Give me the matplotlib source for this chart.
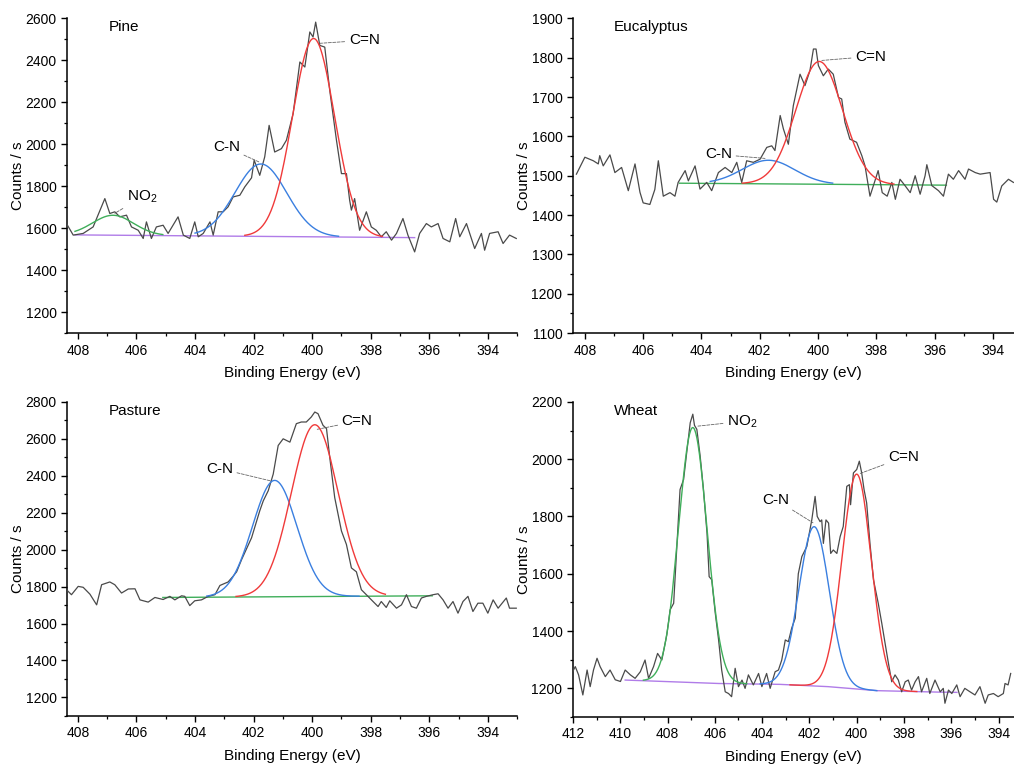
import numpy as np
import matplotlib
matplotlib.use("Agg")
import matplotlib.pyplot as plt
from matplotlib.ticker import MultipleLocator

plt.rcParams['font.family'] = ['Liberation Sans', 'DejaVu Sans']
plt.rcParams['mathtext.fontset'] = 'custom'
plt.rcParams['mathtext.rm'] = 'Liberation Sans'

# ---- raw spectra (binding energy eV, counts/s) ----
pine_e = [408.39, 408.16, 407.82, 407.48, 407.08, 406.91, 406.74, 406.57, 406.34, 406.17,
          405.94, 405.77, 405.66, 405.49, 405.32, 405.09, 404.92, 404.58, 404.40, 404.18,
          404.01, 403.89, 403.72, 403.49, 403.38, 403.21, 403.04, 402.87, 402.70, 402.47,
          402.30, 402.07, 401.98, 401.79, 401.62, 401.47, 401.28, 401.05, 400.88, 400.65,
          400.42, 400.25, 400.08, 399.97, 399.88, 399.74, 399.57, 399.40, 399.17, 399.00,
          398.83, 398.72, 398.66, 398.55, 398.38, 398.15, 397.98, 397.81, 397.64, 397.47,
          397.29, 397.12, 396.90, 396.73, 396.50, 396.33, 396.10, 395.93, 395.70, 395.53,
          395.30, 395.10, 394.96, 394.73, 394.45, 394.22, 394.11, 393.94, 393.65, 393.48,
          393.26, 393.03]
pine_c = [1622, 1567, 1575, 1606, 1741, 1670, 1678, 1654, 1662, 1606,
          1590, 1551, 1630, 1551, 1606, 1614, 1575, 1654, 1567, 1551,
          1630, 1559, 1575, 1630, 1567, 1678, 1678, 1702, 1749, 1757,
          1797, 1840, 1924, 1852, 1940, 2090, 1963, 1979, 2019, 2146,
          2392, 2368, 2535, 2511, 2582, 2471, 2463, 2257, 2019, 1860,
          1860, 1733, 1686, 1741, 1590, 1678, 1606, 1590, 1559, 1583,
          1543, 1575, 1646, 1567, 1487, 1575, 1622, 1606, 1622, 1551,
          1535, 1646, 1559, 1622, 1503, 1575, 1495, 1575, 1583, 1527,
          1567, 1551]

euc_e = [408.29, 408.00, 407.71, 407.54, 407.49, 407.37, 407.14, 406.97, 406.74, 406.51,
         406.28, 406.11, 406.00, 405.77, 405.60, 405.48, 405.31, 405.08, 404.91, 404.80,
         404.56, 404.45, 404.22, 404.05, 403.82, 403.65, 403.42, 403.19, 402.96, 402.79,
         402.62, 402.45, 402.22, 401.99, 401.76, 401.59, 401.48, 401.30, 401.19, 401.02,
         400.85, 400.62, 400.45, 400.28, 400.16, 400.07, 399.99, 399.82, 399.65, 399.48,
         399.30, 399.19, 399.08, 398.91, 398.68, 398.50, 398.39, 398.22, 398.05, 397.94,
         397.80, 397.63, 397.47, 397.35, 397.19, 397.02, 396.84, 396.67, 396.50, 396.33,
         396.27, 396.10, 395.87, 395.70, 395.53, 395.36, 395.18, 394.96, 394.84, 394.61,
         394.44, 394.10, 393.98, 393.87, 393.70, 393.47, 393.30]
euc_c = [1504, 1547, 1538, 1530, 1551, 1525, 1553, 1508, 1521, 1462,
         1530, 1458, 1431, 1427, 1465, 1538, 1448, 1457, 1448, 1483,
         1513, 1487, 1525, 1466, 1483, 1462, 1508, 1521, 1508, 1534,
         1483, 1538, 1534, 1542, 1572, 1576, 1564, 1653, 1619, 1580,
         1678, 1758, 1729, 1767, 1822, 1822, 1780, 1754, 1771, 1758,
         1699, 1695, 1636, 1593, 1585, 1551, 1525, 1448, 1487, 1513,
         1457, 1448, 1483, 1440, 1491, 1475, 1457, 1500, 1453, 1500,
         1528, 1475, 1462, 1448, 1504, 1491, 1513, 1491, 1517, 1508,
         1504, 1508, 1440, 1433, 1474, 1491, 1483]

pas_e = [408.39, 408.22, 407.99, 407.82, 407.59, 407.36, 407.19, 406.91, 406.74, 406.51,
         406.28, 406.05, 405.88, 405.60, 405.37, 405.09, 404.86, 404.69, 404.46, 404.35,
         404.18, 404.01, 403.78, 403.55, 403.32, 403.15, 402.87, 402.70, 402.58, 402.41,
         402.07, 401.79, 401.67, 401.50, 401.33, 401.16, 400.99, 400.76, 400.54, 400.37,
         400.20, 400.03, 399.91, 399.80, 399.63, 399.51, 399.40, 399.23, 399.00, 398.83,
         398.66, 398.49, 398.32, 398.15, 397.92, 397.75, 397.64, 397.47, 397.35, 397.12,
         396.95, 396.78, 396.61, 396.44, 396.27, 396.10, 395.87, 395.70, 395.53, 395.36,
         395.19, 395.02, 394.85, 394.68, 394.51, 394.34, 394.17, 394.00, 393.82, 393.65,
         393.37, 393.26, 393.03]
pas_c = [1783, 1756, 1801, 1796, 1759, 1701, 1810, 1825, 1810, 1765,
         1787, 1788, 1728, 1716, 1741, 1730, 1747, 1728, 1750, 1747,
         1697, 1723, 1728, 1747, 1756, 1806, 1825, 1856, 1880, 1946,
         2064, 2210, 2264, 2319, 2409, 2564, 2600, 2582, 2682, 2691,
         2691, 2718, 2745, 2736, 2673, 2655, 2500, 2282, 2101, 2028,
         1901, 1880, 1783, 1756, 1719, 1692, 1719, 1687, 1723, 1683,
         1701, 1756, 1692, 1683, 1738, 1747, 1756, 1761, 1728, 1683,
         1719, 1656, 1719, 1747, 1665, 1710, 1710, 1656, 1728, 1683,
         1738, 1683, 1683]

wheat_e = [412.00, 411.90, 411.76, 411.58, 411.40, 411.27, 411.13, 410.98, 410.85, 410.63,
           410.43, 410.21, 409.99, 409.79, 409.57, 409.37, 409.15, 408.95, 408.80, 408.59,
           408.42, 408.24, 408.03, 407.89, 407.74, 407.47, 407.32, 407.19, 407.04, 406.93,
           406.86, 406.76, 406.62, 406.48, 406.33, 406.24, 406.13, 405.98, 405.84, 405.71,
           405.56, 405.42, 405.29, 405.14, 405.00, 404.85, 404.72, 404.58, 404.37, 404.15,
           404.01, 403.81, 403.66, 403.45, 403.31, 403.17, 403.02, 402.89, 402.75, 402.60,
           402.47, 402.32, 402.11, 401.90, 401.76, 401.67, 401.55, 401.48, 401.41, 401.30,
           401.19, 401.10, 400.99, 400.84, 400.70, 400.57, 400.42, 400.31, 400.26, 400.14,
           400.00, 399.89, 399.79, 399.69, 399.58, 399.44, 399.29, 399.09, 398.94, 398.80,
           398.66, 398.52, 398.38, 398.24, 398.10, 397.95, 397.82, 397.68, 397.53, 397.39,
           397.26, 397.04, 396.91, 396.69, 396.47, 396.34, 396.27, 396.12, 395.98, 395.77,
           395.63, 395.43, 395.21, 395.00, 394.79, 394.57, 394.44, 394.22, 394.02, 393.80,
           393.73, 393.60, 393.49]
wheat_c = [1260, 1276, 1247, 1177, 1264, 1206, 1264, 1305, 1276, 1241,
           1264, 1230, 1224, 1264, 1247, 1235, 1258, 1299, 1235, 1276,
           1322, 1299, 1387, 1474, 1497, 1894, 1929, 2022, 2127, 2157,
           2118, 2104, 2011, 1894, 1742, 1590, 1579, 1462, 1369, 1264,
           1188, 1182, 1171, 1270, 1206, 1229, 1200, 1247, 1212, 1252,
           1206, 1252, 1200, 1258, 1264, 1299, 1369, 1363, 1410, 1445,
           1600, 1660, 1695, 1788, 1870, 1800, 1782, 1788, 1706, 1788,
           1777, 1671, 1683, 1671, 1730, 1765, 1905, 1911, 1841, 1952,
           1964, 1993, 1952, 1894, 1847, 1706, 1578, 1497, 1427, 1357,
           1288, 1223, 1247, 1229, 1188, 1223, 1229, 1194, 1223, 1241,
           1188, 1235, 1182, 1229, 1188, 1200, 1148, 1194, 1182, 1212,
           1171, 1200, 1188, 1177, 1206, 1148, 1177, 1182, 1171, 1182,
           1217, 1212, 1252]

# ---- fitted components: label, centre, height above baseline, sigma, drawn range ----
pine_fit_label = ["NO$_2$", "C-N", "C=N"]
pine_fit_center = [406.8, 401.75, 399.95]
pine_fit_height = [95, 345, 945]
pine_fit_sigma = [0.7, 0.88, 0.72]
pine_fit_range = [(408.1, 405.1), (404.0, 399.1), (402.3, 397.6)]
pine_base_e = [408.1, 396.5]
pine_base_c = [1568, 1555]

euc_fit_label = ["C-N", "C=N"]
euc_fit_center = [401.7, 399.96]
euc_fit_height = [60, 312]
euc_fit_sigma = [0.9, 0.8]
euc_fit_range = [(403.7, 399.5), (402.6, 397.4)]
euc_base_e = [404.75, 395.6]
euc_base_c = [1481, 1476]

pas_fit_label = ["C-N", "C=N"]
pas_fit_center = [401.28, 399.91]
pas_fit_height = [630, 930]
pas_fit_sigma = [0.76, 0.8]
pas_fit_range = [(403.6, 398.4), (402.6, 397.5)]
pas_base_e = [405.1, 395.9]
pas_base_c = [1741, 1750]

wheat_fit_label = ["NO$_2$", "C-N", "C=N"]
wheat_fit_center = [406.93, 401.80, 400.0]
wheat_fit_height = [890, 556, 750]
wheat_fit_sigma = [0.6, 0.64, 0.62]
wheat_fit_range = [(409.02, 404.65), (404.08, 399.15), (402.82, 397.46)]
wheat_base_e = [409.79, 405.83, 403.26, 401.21, 399.15, 396.58, 395.76]
wheat_base_c = [1229, 1217, 1214, 1206, 1192, 1187, 1186]

comp_color = {"NO$_2$": "#3fae5a", "C-N": "#3a7fe0", "C=N": "#f03a3a"}


def panel(ax, title, e, c, labels, centers, heights, sigmas, ranges, be, bc, bcolor,
          xlim, ylim, ymajor, yminor, notes):
    ax.plot(e, c, color="#4a4a4a", lw=0.9, zorder=3)
    # baseline: stored points are descending in energy, np.interp needs ascending
    be_a = np.array(be)[::-1]
    bc_a = np.array(bc)[::-1]
    ax.plot(be, bc, color=bcolor, lw=1.0, zorder=2)
    for lab, cen, h, s, (r0, r1) in zip(labels, centers, heights, sigmas, ranges):
        xx = np.linspace(r1, r0, 200)
        base = np.interp(xx, be_a, bc_a)
        ax.plot(xx, base + h * np.exp(-(xx - cen) ** 2 / (2 * s * s)),
                color=comp_color[lab], lw=1.0, zorder=4)
    for lab, (tx, ty), (px, py) in notes:
        ax.annotate(lab, xy=(px, py), xytext=(tx, ty), fontsize=11,
                    ha="left", va="center",
                    arrowprops=dict(arrowstyle="-", ls="--", color="#666666",
                                    lw=0.6, shrinkA=1, shrinkB=0))
    ax.set_xlim(*xlim)
    ax.set_ylim(*ylim)
    ax.xaxis.set_major_locator(MultipleLocator(2))
    ax.xaxis.set_minor_locator(MultipleLocator(1))
    ax.yaxis.set_major_locator(MultipleLocator(ymajor))
    ax.yaxis.set_minor_locator(MultipleLocator(yminor))
    ax.spines["top"].set_visible(False)
    ax.spines["right"].set_visible(False)
    for s in ("left", "bottom"):
        ax.spines[s].set_linewidth(1.1)
    ax.tick_params(which="major", direction="out", length=4, width=1.0, labelsize=10)
    ax.tick_params(which="minor", direction="out", length=2.5, width=0.9)
    ax.set_xlabel("Binding Energy (eV)", fontsize=11, labelpad=6)
    ax.set_ylabel("Counts / s", fontsize=11, labelpad=0)
    ax.text(0.092, 0.972, title, transform=ax.transAxes, fontsize=11, va="center")


fig = plt.figure(figsize=(10.14, 7.64), dpi=100)

ax1 = fig.add_axes([0.066, 0.564, 0.444, 0.412])
panel(ax1, "Pine", pine_e, pine_c, pine_fit_label, pine_fit_center, pine_fit_height,
      pine_fit_sigma, pine_fit_range, pine_base_e, pine_base_c, "#b07ce8",
      (408.375, 393.0), (1100, 2600), 200, 100,
      [("C=N", (398.75, 2495), (399.74, 2481)),
       ("C-N", (403.39, 1986), (401.79, 1914)),
       ("NO$_2$", (406.33, 1748), (406.74, 1671))])

ax2 = fig.add_axes([0.565, 0.564, 0.435, 0.412])
panel(ax2, "Eucalyptus", euc_e, euc_c, euc_fit_label, euc_fit_center, euc_fit_height,
      euc_fit_sigma, euc_fit_range, euc_base_e, euc_base_c, "#3fae5a",
      (408.41, 393.28), (1100, 1900), 100, 50,
      [("C=N", (398.73, 1803), (399.87, 1793)),
       ("C-N", (403.88, 1554), (401.82, 1544))])

ax3 = fig.add_axes([0.066, 0.063, 0.444, 0.411])
panel(ax3, "Pasture", pas_e, pas_c, pas_fit_label, pas_fit_center, pas_fit_height,
      pas_fit_sigma, pas_fit_range, pas_base_e, pas_base_c, "#3fae5a",
      (408.375, 393.0), (1100, 2800), 200, 100,
      [("C=N", (398.99, 2695), (399.84, 2651)),
       ("C-N", (403.63, 2439), (401.44, 2373))])

ax4 = fig.add_axes([0.565, 0.0615, 0.435, 0.4125])
panel(ax4, "Wheat", wheat_e, wheat_c, wheat_fit_label, wheat_fit_center, wheat_fit_height,
      wheat_fit_sigma, wheat_fit_range, wheat_base_e, wheat_base_c, "#b07ce8",
      (412.0, 393.35), (1100, 2200), 200, 100,
      [("NO$_2$", (405.48, 2132), (406.75, 2115)),
       ("C=N", (398.68, 2006), (399.86, 1950)),
       ("C-N", (404.0, 1859), (401.85, 1778))])
ax4.set_yticks([1200, 1400, 1600, 1800, 2000, 2200])

fig.savefig("out.png", dpi=100)
